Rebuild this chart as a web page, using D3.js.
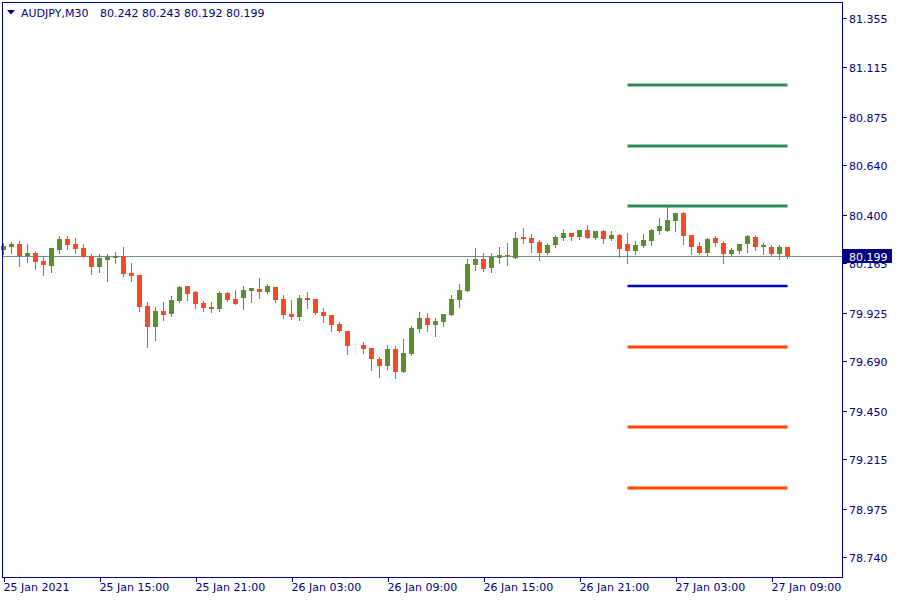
<!DOCTYPE html>
<html><head><meta charset="utf-8">
<script src="https://cdn.jsdelivr.net/npm/d3@7"></script>
<style>body{margin:0;background:#fff}svg{display:block}text{font-family:"DejaVu Sans",sans-serif;font-size:11px}</style>
</head><body><svg id="c" width="900" height="600"></svg>
<script>
const symbol = "AUDJPY,M30";
const openP = [80.229,80.245,80.258,80.202,80.215,80.176,80.153,80.231,80.283,80.258,
80.239,80.200,80.148,80.182,80.192,80.200,80.119,80.108,79.958,79.857,
79.933,79.919,79.982,80.055,80.026,79.972,79.953,79.943,80.021,79.992,
79.996,80.030,80.040,80.026,80.050,79.992,79.919,79.904,79.996,79.992,
79.928,79.914,79.870,79.836,79.775,79.768,79.754,79.700,79.667,79.749,
79.637,79.725,79.846,79.899,79.865,79.881,79.914,79.987,80.030,80.157,
80.186,80.143,80.192,80.205,80.192,80.292,80.288,80.268,80.216,80.254,
80.288,80.312,80.292,80.326,80.288,80.322,80.283,80.302,80.258,80.226,
80.249,80.274,80.323,80.323,80.372,80.409,80.302,80.249,80.216,80.288,
80.263,80.211,80.226,80.257,80.292,80.245,80.245,80.210,80.242];
const highP = [80.261,80.268,80.272,80.258,80.224,80.197,80.239,80.297,80.297,80.288,
80.258,80.210,80.210,80.210,80.220,80.244,80.168,80.108,79.977,79.953,
79.977,80.006,80.055,80.055,80.030,79.982,79.977,80.030,80.026,80.035,
80.055,80.045,80.093,80.064,80.050,80.011,79.987,80.011,80.026,79.992,
79.948,79.914,79.880,79.836,79.788,79.783,79.754,79.710,79.768,79.764,
79.798,79.861,79.928,79.924,79.899,79.919,80.011,80.064,80.186,80.239,
80.215,80.215,80.244,80.263,80.317,80.336,80.307,80.278,80.263,80.302,
80.331,80.312,80.326,80.351,80.322,80.326,80.322,80.307,80.312,80.273,
80.307,80.331,80.385,80.443,80.409,80.414,80.302,80.268,80.288,80.297,
80.273,80.239,80.258,80.302,80.302,80.262,80.254,80.254,80.243];
const lowP = [80.212,80.216,80.153,80.173,80.139,80.110,80.124,80.216,80.236,80.216,
80.197,80.114,80.124,80.080,80.168,80.105,80.080,79.935,79.760,79.794,
79.890,79.909,79.977,79.988,79.949,79.935,79.930,79.933,79.982,79.967,
79.943,79.977,79.996,80.021,79.977,79.899,79.895,79.890,79.948,79.919,
79.880,79.836,79.831,79.725,79.730,79.730,79.647,79.613,79.652,79.608,
79.637,79.720,79.831,79.836,79.812,79.861,79.914,79.953,80.030,80.132,
80.127,80.123,80.168,80.158,80.192,80.265,80.220,80.182,80.211,80.245,
80.278,80.278,80.283,80.288,80.283,80.263,80.278,80.197,80.168,80.211,
80.244,80.255,80.308,80.323,80.323,80.260,80.211,80.211,80.202,80.250,
80.168,80.206,80.216,80.221,80.228,80.208,80.205,80.184,80.192];
const closeP = [80.249,80.258,80.202,80.215,80.173,80.158,80.239,80.283,80.255,80.236,
80.197,80.148,80.191,80.197,80.200,80.114,80.105,79.954,79.857,79.933,
79.914,79.987,80.050,80.017,79.969,79.949,79.945,80.021,79.987,79.967,
80.035,80.045,80.026,80.055,79.987,79.914,79.904,79.996,79.987,79.924,
79.909,79.865,79.836,79.764,79.775,79.749,79.700,79.667,79.749,79.637,
79.730,79.851,79.899,79.865,79.885,79.919,79.992,80.035,80.161,80.186,
80.137,80.195,80.205,80.199,80.288,80.284,80.265,80.216,80.254,80.292,
80.312,80.292,80.326,80.288,80.322,80.283,80.302,80.236,80.226,80.254,
80.278,80.326,80.346,80.375,80.409,80.299,80.245,80.216,80.283,80.265,
80.211,80.229,80.258,80.297,80.242,80.254,80.210,80.245,80.199];
const timeTickIndex = [0,12,24,36,48,60,72,84,96];
const timeTickLabels = ["25 Jan 2021","25 Jan 15:00","25 Jan 21:00","26 Jan 03:00","26 Jan 09:00","26 Jan 15:00","26 Jan 21:00","27 Jan 03:00","27 Jan 09:00"];
const priceTicks = [81.355,81.115,80.875,80.640,80.400,80.165,79.925,79.690,79.450,79.215,78.975,78.740];
const levelPrices = [81.030,80.734,80.443,80.055,79.759,79.371,79.075];
const levelKinds = ["tp","tp","tp","entry","sl","sl","sl"];
const levelFromBar = 78, levelToBar = 98;

const C = {frame:"#000080", text:"#000080", up:"#5a8f2e", down:"#f34b25", doji:"#f3e4dc",
  tp:"#2e8b57", entry:"#0000cd", sl:"#ff4500", last:"#778899", box:"#000080"};

const svg = d3.select("#c");
const L = 2, R = 843, T = 2, B = 577;
const n = closeP.length;
const x = d3.scaleLinear().domain([0, n-1]).range([3.5, 3.5 + 8*(n-1)]);
const y = d3.scaleLinear().domain([78.740, 81.355]).range([557, 18]);
const bars = d3.range(n).map(i => ({i, o:openP[i], h:highP[i], l:lowP[i], c:closeP[i]}));
const colorOf = d => d.c > d.o ? C.up : (d.c < d.o ? C.down : C.doji);

svg.append("rect").attr("width",900).attr("height",600).attr("fill","#fff");

// last price line
const lastP = closeP[n-1];
const ly = Math.round(y(lastP)) + 0.5;
svg.append("line").attr("x1",L).attr("x2",R).attr("y1",ly).attr("y2",ly)
  .attr("stroke",C.last).attr("stroke-width",1);

// level lines
svg.append("g").selectAll("line").data(levelPrices).join("line")
  .attr("x1", x(levelFromBar)).attr("x2", x(levelToBar))
  .attr("y1", d => Math.round(y(d))).attr("y2", d => Math.round(y(d)))
  .attr("stroke", (d,i) => C[levelKinds[i]])
  .attr("stroke-width", (d,i) => levelKinds[i]==="entry" ? 2.5 : 3);

// candles
const g = svg.append("g");
g.selectAll("rect.w").data(bars).join("rect").attr("class","w")
  .attr("x", d => x(d.i) - 0.5).attr("width", 1)
  .attr("y", d => Math.round(y(d.h)))
  .attr("height", d => Math.round(y(d.l)) - Math.round(y(d.h)) + 1)
  .attr("fill", colorOf);
g.selectAll("rect.b").data(bars).join("rect").attr("class","b")
  .attr("x", d => x(d.i) - 2.5).attr("width", 5)
  .attr("y", d => Math.round(y(Math.max(d.o,d.c))))
  .attr("height", d => Math.max(1, Math.round(y(Math.min(d.o,d.c))) - Math.round(y(Math.max(d.o,d.c)))))
  .attr("fill", colorOf);

// frame
svg.append("rect").attr("x",L+0.5).attr("y",T+0.5).attr("width",R-L-1).attr("height",B-T)
  .attr("fill","none").attr("stroke",C.frame).attr("stroke-width",1);

// price axis
const pa = svg.append("g");
priceTicks.forEach(t => {
  const ty = Math.round(y(t)) + 0.5;
  pa.append("line").attr("x1",R).attr("x2",R+4).attr("y1",ty).attr("y2",ty).attr("stroke",C.frame);
  pa.append("text").attr("x",R+6).attr("y",ty+4).attr("fill",C.text).text(d3.format(".3f")(t));
});
// last price box
pa.append("rect").attr("x",R).attr("y",Math.round(y(lastP))-7).attr("width",49).attr("height",14).attr("fill",C.box);
pa.append("text").attr("x",R+6).attr("y",Math.round(y(lastP))+4.5).attr("fill","#fff").text(d3.format(".3f")(lastP));

// time axis
const ta = svg.append("g");
timeTickIndex.forEach((bi, k) => {
  const tx = Math.round(x(bi)) + 0.5;
  ta.append("line").attr("x1",tx).attr("x2",tx).attr("y1",B).attr("y2",B+5).attr("stroke",C.frame);
  ta.append("text").attr("x",tx-1).attr("y",591).attr("fill",C.text).text(timeTickLabels[k]);
});

// title
svg.append("path").attr("d","M7,10 L15,10 L11,14.5 Z").attr("fill",C.text);
svg.append("text").attr("x",21).attr("y",17).attr("fill",C.text).text(symbol);
const f3 = d3.format(".3f");
svg.append("text").attr("x",100).attr("y",17).attr("fill",C.text)
  .text([openP[n-1],highP[n-1],lowP[n-1],closeP[n-1]].map(f3).join(" "));
</script></body></html>
